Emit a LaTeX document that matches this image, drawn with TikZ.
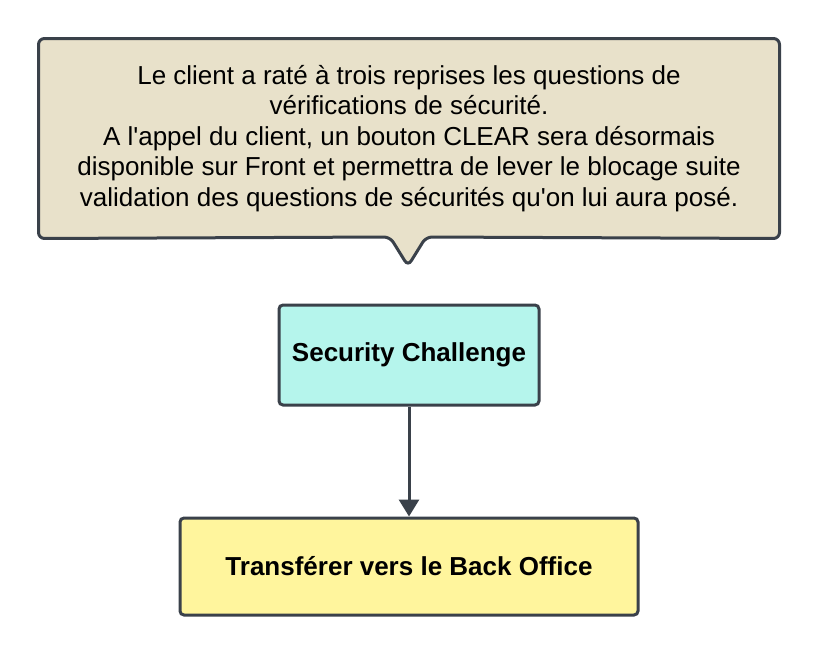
\documentclass[tikz,border=0pt]{standalone}
\usepackage{fontspec}
\setmainfont{Liberation Sans}
\usetikzlibrary{arrows.meta, positioning, backgrounds}
\definecolor{edgegray}{HTML}{3A414A}
\definecolor{notefill}{HTML}{E8E1CA}
\definecolor{stepcyan}{HTML}{B5F5EC}
\definecolor{stepyellow}{HTML}{FFF59D}
\begin{document}
\begin{tikzpicture}[
                    x=1pt, y=-1pt,
                    line width=3pt,
                    >={Triangle[width=20pt,length=17pt]},
                    stepbox/.style={draw=edgegray, rounded corners=4pt,
                        font=\fontsize{26}{31}\selectfont\bfseries, align=center},
                ]
                \useasboundingbox (0,0) rectangle (818,656);

                % callout
                \node[minimum width=738pt, minimum height=197pt, inner sep=0pt,
                      align=center, font=\fontsize{26}{30.5}\selectfont] (note) at (409,138.5)
                    {Le client a raté à trois reprises les questions de\\
                     vérifications de sécurité.\\
                     A l\textquotesingle appel du client, un bouton CLEAR sera désormais\\
                     disponible sur Front et permettra de lever le blocage suite\\
                     validation des questions de sécurités qu\textquotesingle on lui aura posé.};
                \coordinate (tip) at (408,266);
                \begin{scope}[on background layer]
                    \filldraw[fill=notefill, draw=edgegray, line width=3pt, rounded corners=6pt]
                        (note.north west) -- (note.north east) -- (note.south east)
                        -- (426,237) -- (tip) -- (390,237) -- (note.south west) -- cycle;
                \end{scope}

                % steps
                \node[stepbox, fill=stepcyan, minimum width=260pt, minimum height=100pt]
                    (sec) at (409,355) {Security Challenge};
                \node[stepbox, fill=stepyellow, minimum width=458pt, minimum height=97pt]
                    (bo) at (409,566.5) {Transférer vers le Back Office};

                \draw[->, edgegray] (sec) -- (bo);
\end{tikzpicture}
\end{document}
